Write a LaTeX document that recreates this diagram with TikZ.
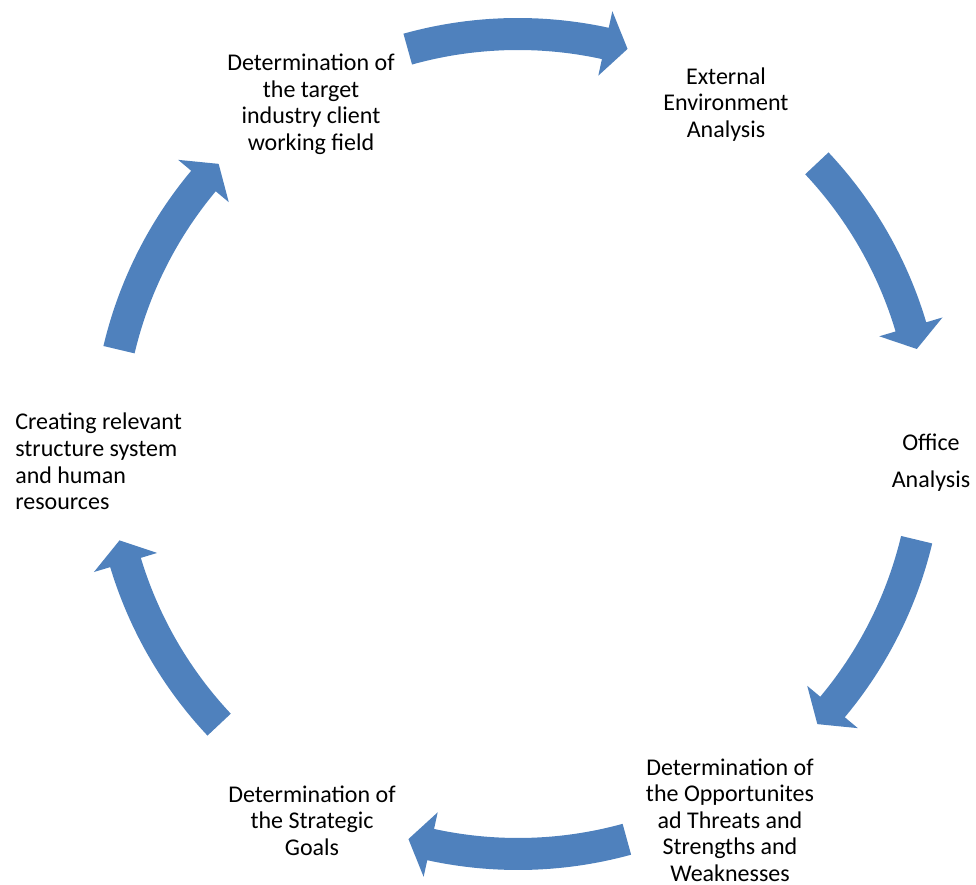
\documentclass[tikz,border=0pt]{standalone}
\usepackage{fontspec}
\setmainfont{Carlito}
\definecolor{arrowblue}{RGB}{79,129,189}
\newcommand\cyclearrow[2]{%
  \pgfmathsetmacro\headbase{#2+3.2}%
  \fill[arrowblue] plot[domain=#1:\headbase, samples=40] (\x:426)
    -- (\headbase:443) -- (#2:410) -- (\headbase:377) -- (\headbase:394)
    -- plot[domain=\headbase:#1, samples=40] (\x:394) -- cycle;}
\begin{document}
\begin{tikzpicture}[x=0.75pt,y=0.75pt,
  lbl/.style={inner sep=0pt, align=center, font=\fontsize{18}{19.9}\selectfont}]
\useasboundingbox (-518,-441) rectangle (458,444);
% arrows (tail angle, tip angle)
\cyclearrow{105.6}{74.5}
\cyclearrow{43.2}{13.4}
\cyclearrow{-13.5}{-43.1}
\cyclearrow{-74.6}{-105.5}
\cyclearrow{-136.8}{-166.4}
\cyclearrow{166.7}{136.9}
% labels
\node[lbl] (target) at (-207,339.5) {Determination of\\the target\\industry client\\working field};
\node[lbl] (external) at (208,339.5) {External\\Environment\\Analysis};
\node[lbl] (office) at (413,-19) {Office\\[8pt]Analysis};
\node[lbl] (swot) at (212,-376) {Determination of\\the Opportunites\\ad Threats and\\Strengths and\\Weaknesses};
\node[lbl] (goals) at (-206,-376.5) {Determination of\\the Strategic\\Goals};
\node[lbl, align=left, anchor=west] (structure) at (-503,-17.5) {Creating relevant\\structure system\\and human\\resources};
\end{tikzpicture}
\end{document}
